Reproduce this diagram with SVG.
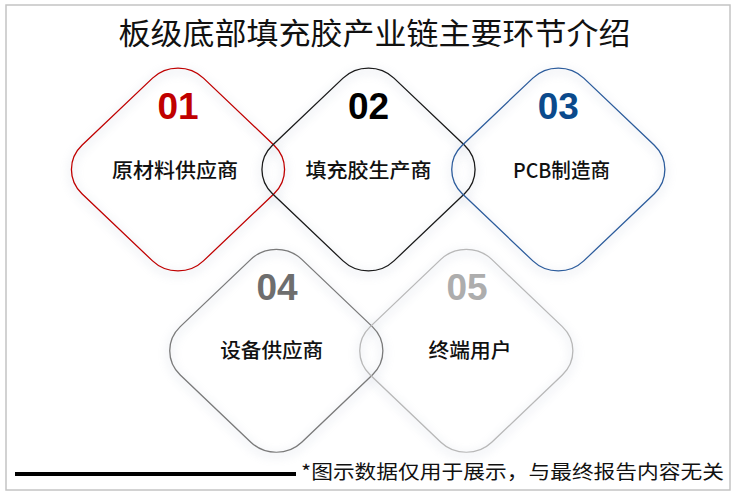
<svg xmlns="http://www.w3.org/2000/svg" width="738" height="498" viewBox="0 0 738 498">
  <defs>
    <style>
      .frame { fill: #ffffff; stroke: #c4c4c4; stroke-width: 1.5; }
      .shape { fill: none; stroke-width: 1.3; }
      .glow { fill: none; stroke: #9aa6bf; stroke-width: 6; opacity: 0.16; filter: url(#blur); }
      .num { font-family: "Liberation Sans", Arial, sans-serif; font-weight: 700; font-size: 37px; text-anchor: middle; }
      .lbl { font-family: "Noto Sans CJK SC", "Liberation Sans", sans-serif; font-weight: 500; font-size: 20.5px; fill: #111111; text-anchor: middle; }
      .title { font-family: "Noto Sans CJK SC", "Liberation Serif", sans-serif; font-weight: 400; font-size: 30px; fill: #111111; text-anchor: middle; }
      .note { font-family: "Noto Sans CJK SC", "Liberation Sans", sans-serif; font-size: 19px; fill: #111111; }
    </style>
    <filter id="blur" x="-20%" y="-20%" width="140%" height="140%">
      <feGaussianBlur stdDeviation="5"/>
    </filter>
    <rect id="rd" x="-85.9" y="-85.9" width="171.8" height="171.8" rx="36" ry="36"/>
  </defs>

  <rect class="frame" x="6" y="5" width="724" height="485"/>

  <text class="title" x="374.5" y="44" textLength="512" lengthAdjust="spacingAndGlyphs">板级底部填充胶产业链主要环节介绍</text>

  <g id="glows">
    <use href="#rd" class="glow" transform="translate(178,172.5) scale(1,0.952) rotate(45)"/>
    <use href="#rd" class="glow" transform="translate(368.5,172.5) scale(1,0.952) rotate(45)"/>
    <use href="#rd" class="glow" transform="translate(558.3,172.5) scale(1,0.952) rotate(45)"/>
    <use href="#rd" class="glow" transform="translate(276.3,353.8) scale(1,0.952) rotate(45)"/>
    <use href="#rd" class="glow" transform="translate(466.3,353.8) scale(1,0.952) rotate(45)"/>
  </g>

  <g id="node1">
    <use href="#rd" class="shape" stroke="#c00000" vector-effect="non-scaling-stroke" transform="translate(178,169.5) scale(1,0.952) rotate(45)"/>
    <text class="num" x="178" y="119" fill="#c00000">01</text>
    <text class="lbl" x="175" y="178" textLength="126" lengthAdjust="spacingAndGlyphs">原材料供应商</text>
  </g>

  <g id="node2">
    <use href="#rd" class="shape" stroke="#1a1a1a" vector-effect="non-scaling-stroke" transform="translate(368.5,169.5) scale(1,0.952) rotate(45)"/>
    <text class="num" x="368.5" y="119" fill="#000000">02</text>
    <text class="lbl" x="368.5" y="178" textLength="126" lengthAdjust="spacingAndGlyphs">填充胶生产商</text>
  </g>

  <g id="node3">
    <use href="#rd" class="shape" stroke="#2c5c9c" vector-effect="non-scaling-stroke" transform="translate(558.3,169.5) scale(1,0.952) rotate(45)"/>
    <text class="num" x="558.3" y="119" fill="#0b4a8c">03</text>
    <text class="lbl" x="561.5" y="178" font-weight="700" textLength="97" lengthAdjust="spacingAndGlyphs">PCB制造商</text>
  </g>

  <g id="node4">
    <use href="#rd" class="shape" stroke="#7a7a7a" vector-effect="non-scaling-stroke" transform="translate(276.3,350.8) scale(1,0.952) rotate(45)"/>
    <text class="num" x="277" y="300" fill="#6e6e6e">04</text>
    <text class="lbl" x="271.7" y="358" textLength="103" lengthAdjust="spacingAndGlyphs">设备供应商</text>
  </g>

  <g id="node5">
    <use href="#rd" class="shape" stroke="#b8b8b8" vector-effect="non-scaling-stroke" transform="translate(466.3,350.8) scale(1,0.952) rotate(45)"/>
    <text class="num" x="467" y="300" fill="#adadad">05</text>
    <text class="lbl" x="470" y="358" textLength="83" lengthAdjust="spacingAndGlyphs">终端用户</text>
  </g>

  <g id="connectors"></g>

  <line x1="15" y1="474" x2="296" y2="474" stroke="#000000" stroke-width="4"/>
  <text class="note" x="301" y="479" textLength="423" lengthAdjust="spacingAndGlyphs">*图示数据仅用于展示，与最终报告内容无关</text>
</svg>
